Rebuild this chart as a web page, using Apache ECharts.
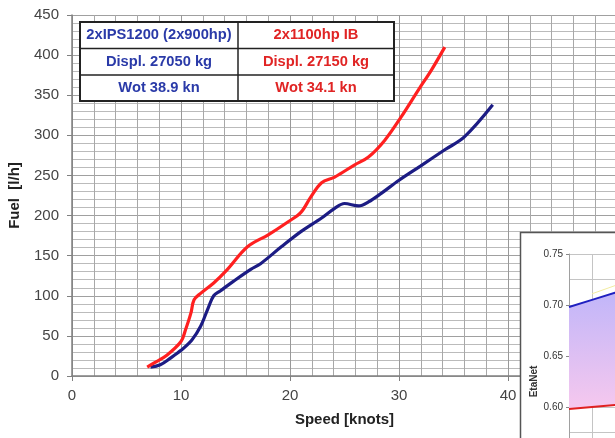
<!DOCTYPE html>
<html>
<head>
<meta charset="utf-8">
<script src="https://cdn.jsdelivr.net/npm/echarts@6/dist/echarts.min.js"></script>
<style>
  html, body { margin: 0; padding: 0; background: #fff; }
  #chart { width: 615px; height: 438px; }
</style>
</head>
<body>
<div id="chart"></div>
<script>
// main chart: fuel vs speed
const ipsSpeed = [7.2, 8.1, 9.0, 10.0, 11.0, 11.8, 12.5, 13.0, 13.6, 14.8, 16.4, 17.3, 19.2, 21.0, 22.9, 24.1, 25.0, 26.3, 27.2, 28.4, 30.0, 32.0, 34.2, 36.0, 38.6];
const ipsFuel = [11, 14, 22, 32, 45, 62, 85, 100, 106, 118, 133, 140, 161, 180, 197, 209, 215, 212, 217, 228, 244, 262, 282, 298, 338];
const ibSpeed = [6.9, 7.5, 8.7, 10.0, 10.4, 10.9, 11.2, 11.8, 13.0, 14.2, 16.1, 18.0, 19.8, 21.0, 21.9, 22.9, 24.1, 25.9, 27.2, 28.7, 30.2, 31.8, 33.0, 34.2];
const ibFuel = [11, 16, 26, 43, 57, 78, 95, 103, 116, 132, 161, 176, 192, 204, 223, 241, 248, 263, 273, 294, 323, 357, 382, 410];

// legend table text
const ipsLabels = ['2xIPS1200 (2x900hp)', 'Displ. 27050 kg', 'Wot 38.9 kn'];
const ibLabels = ['2x1100hp IB', 'Displ. 27150 kg', 'Wot 34.1 kn'];

// inset (EtaNet), only its corner is visible
const etaCats = ['1', '2', '3', '4', '5', '6', '7', '8', '9', '10', '11'];
const ipsEta = [0.698, 0.705, 0.712, 0.718, 0.723];
const ibEta = [0.598, 0.600, 0.602, 0.603, 0.604];
const yellowEta = [null, 0.711, 0.719, 0.725];

const BLUE = '#1c1c84';
const RED = '#ff2020';
const TXT_BLUE = '#2a3aa8';
const TXT_RED = '#e02424';
const FONT = '"Liberation Sans", Arial';

const pairs = (xs, ys) => xs.map((x, i) => [x, ys[i]]);

const chart = echarts.init(document.getElementById('chart'));

// table graphics
const rowY = [22, 48.5, 75, 101];
const tableEls = [
  { type: 'rect', z: 5, shape: { x: 80, y: 22, width: 314, height: 79 }, style: { fill: '#fff', stroke: '#222', lineWidth: 2 } },
  { type: 'line', z: 6, shape: { x1: 238, y1: 22, x2: 238, y2: 101 }, style: { stroke: '#222', lineWidth: 1.5 } },
  { type: 'line', z: 6, shape: { x1: 80, y1: rowY[1], x2: 394, y2: rowY[1] }, style: { stroke: '#222', lineWidth: 1.5 } },
  { type: 'line', z: 6, shape: { x1: 80, y1: rowY[2], x2: 394, y2: rowY[2] }, style: { stroke: '#222', lineWidth: 1.5 } },
];
ipsLabels.forEach((t, i) => {
  tableEls.push({
    type: 'text', z: 7, x: 159, y: (rowY[i] + rowY[i + 1]) / 2,
    style: { text: t, fill: TXT_BLUE, font: 'bold 14.7px ' + FONT, align: 'center', verticalAlign: 'middle' },
  });
});
ibLabels.forEach((t, i) => {
  tableEls.push({
    type: 'text', z: 7, x: 316, y: (rowY[i] + rowY[i + 1]) / 2,
    style: { text: t, fill: TXT_RED, font: 'bold 14.7px ' + FONT, align: 'center', verticalAlign: 'middle' },
  });
});
// inset frame
tableEls.push({
  type: 'rect', z: 10, shape: { x: 520.5, y: 232.5, width: 140, height: 240 },
  style: { fill: '#fff', stroke: '#555', lineWidth: 1.5 },
});

const option = {
  backgroundColor: '#fff',
  animation: false,
  grid: [
    { left: 72, top: 15, width: 545, height: 361, outerBoundsMode: 'none' },
    { left: 569, top: 254, width: 230, height: 255, outerBoundsMode: 'none' },
  ],
  graphic: tableEls,
  xAxis: [
    {
      gridIndex: 0,
      type: 'value',
      min: 0,
      max: 50,
      interval: 10,
      name: 'Speed [knots]',
      nameLocation: 'middle',
      nameGap: 36,
      nameTextStyle: { fontFamily: FONT, fontWeight: 'bold', fontSize: 15, color: '#222' },
      axisLine: { lineStyle: { color: '#808080', width: 1.5 } },
      axisTick: { show: true, length: 5, lineStyle: { color: '#808080' } },
      axisLabel: { fontFamily: FONT, fontSize: 15, color: '#444', margin: 12 },
      splitLine: { lineStyle: { color: '#999', width: 1 } },
      minorTick: { show: false, splitNumber: 5 },
      minorSplitLine: { show: true, lineStyle: { color: '#a8a8a8', width: 1 } },
    },
    {
      gridIndex: 1,
      type: 'category',
      data: etaCats,
      boundaryGap: false,
      z: 20,
      axisLine: { show: false },
      axisTick: { show: false },
      axisLabel: { show: false },
      splitLine: { show: true, lineStyle: { color: '#c4c4c4', width: 1 } },
    },
  ],
  yAxis: [
    {
      gridIndex: 0,
      type: 'value',
      min: 0,
      max: 450,
      interval: 50,
      name: 'Fuel  [l/h]',
      nameLocation: 'middle',
      nameGap: 50,
      nameTextStyle: { fontFamily: FONT, fontWeight: 'bold', fontSize: 15, color: '#222' },
      axisLine: { show: true, lineStyle: { color: '#808080', width: 1.5 } },
      axisTick: { show: true, length: 5, lineStyle: { color: '#808080' } },
      axisLabel: { fontFamily: FONT, fontSize: 15, color: '#444', margin: 13 },
      splitLine: { lineStyle: { color: '#a0a0a0', width: 1 } },
      minorTick: { show: false, splitNumber: 5 },
      minorSplitLine: { show: true, lineStyle: { color: '#bbbbbb', width: 1 } },
    },
    {
      gridIndex: 1,
      type: 'value',
      min: 0.5,
      max: 0.75,
      interval: 0.05,
      z: 20,
      name: 'EtaNet',
      nameLocation: 'middle',
      nameGap: 28,
      nameTextStyle: { fontFamily: FONT, fontWeight: 'bold', fontSize: 10, color: '#333' },
      axisLine: { show: true, lineStyle: { color: '#a0a0a0', width: 1 } },
      axisTick: { show: true, length: 3, lineStyle: { color: '#888' } },
      axisLabel: {
        fontFamily: '"Liberation Sans Narrow", ' + FONT,
        fontSize: 10,
        color: '#333',
        margin: 6,
        formatter: (v) => v.toFixed(2),
      },
      splitLine: { lineStyle: { color: '#c4c4c4', width: 1 } },
      minorTick: { show: false, splitNumber: 2 },
      minorSplitLine: { show: true, lineStyle: { color: '#c4c4c4', width: 1 } },
    },
  ],
  series: [
    {
      name: '2xIPS1200',
      type: 'line',
      xAxisIndex: 0,
      yAxisIndex: 0,
      data: pairs(ipsSpeed, ipsFuel),
      showSymbol: false,
      smooth: 0.35,
      lineStyle: { color: BLUE, width: 3.2 },
      z: 3,
    },
    {
      name: '2x1100hp IB',
      type: 'line',
      xAxisIndex: 0,
      yAxisIndex: 0,
      data: pairs(ibSpeed, ibFuel),
      showSymbol: false,
      smooth: 0.35,
      lineStyle: { color: RED, width: 3.2 },
      z: 3,
    },
    // inset band between the two eta curves
    {
      type: 'line',
      xAxisIndex: 1,
      yAxisIndex: 1,
      stack: 'band',
      data: ibEta,
      showSymbol: false,
      lineStyle: { opacity: 0 },
      z: 21,
    },
    {
      type: 'line',
      xAxisIndex: 1,
      yAxisIndex: 1,
      stack: 'band',
      data: ipsEta.map((v, i) => +(v - ibEta[i]).toFixed(3)),
      showSymbol: false,
      lineStyle: { opacity: 0 },
      areaStyle: {
        opacity: 1,
        color: new echarts.graphic.LinearGradient(0, 0, 0, 1, [
          { offset: 0, color: '#bcb4fa' },
          { offset: 1, color: '#f6c8ee' },
        ]),
      },
      z: 21,
    },
    {
      type: 'line',
      xAxisIndex: 1,
      yAxisIndex: 1,
      data: ipsEta,
      showSymbol: false,
      lineStyle: { color: '#2020c0', width: 2 },
      z: 22,
    },
    {
      type: 'line',
      xAxisIndex: 1,
      yAxisIndex: 1,
      data: ibEta,
      showSymbol: false,
      lineStyle: { color: '#e02020', width: 2 },
      z: 22,
    },
    {
      type: 'line',
      xAxisIndex: 1,
      yAxisIndex: 1,
      data: yellowEta,
      showSymbol: false,
      lineStyle: { color: '#f2eca0', width: 1 },
      z: 22,
    },
  ],
};

chart.setOption(option);
</script>
</body>
</html>
